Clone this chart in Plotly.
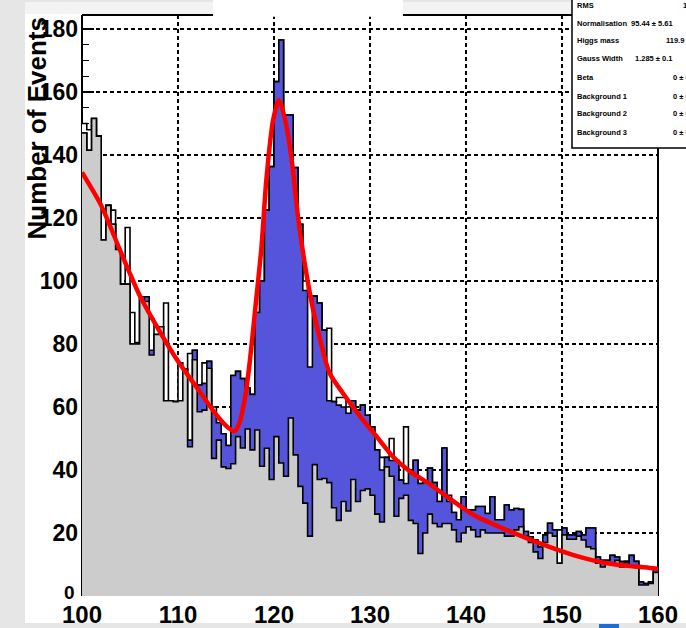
import plotly.graph_objects as go

# ---------------- data ----------------
BIN_LOW = 100.0
BIN_WIDTH = 0.5

data_counts = [
    150, 148, 151.6, 146, 122, 124, 122.5, 110, 99, 117,
    90, 80.5, 95, 95, 88, 83, 85.5, 93, 62, 61.7,
    74, 72, 77, 78, 67, 74, 74.5, 60, 55, 51.5,
    47.8, 70, 71.3, 69, 66, 64, 90, 100, 122.5, 136.3,
    163.3, 176.5, 152.7, 152.7, 136, 118, 100, 95, 95.2, 93,
    84.4, 85, 61.7, 63, 63, 60, 62, 59, 60.6, 57.4,
    53.7, 46.4, 44, 44, 50, 43, 36.8, 53.7, 40, 43.1,
    35.7, 36, 40.6, 36, 30, 47, 32, 26.5, 24.2, 31.5,
    27.3, 27.3, 28.4, 28.4, 26.2, 31.5, 24.2, 24.2, 28.9, 27.3,
    27.8, 27.5, 20.5, 18.8, 17.8, 15.6, 19.4, 23.1, 21, 21,
    21.6, 19.4, 19.4, 20.5, 19.4, 21.6, 21.6, 12.4, 11.3, 11.3,
    12.9, 12.4, 10.9, 11, 12.9, 11, 9, 9, 8.8, 8.8,
]

background_counts = [
    147, 141.5, 151.6, 146, 113, 124, 118, 110, 99, 99,
    80, 80, 95, 93.5, 76.5, 83, 85.5, 62, 62, 61.7,
    62, 72, 47.4, 75, 58.5, 59, 72.3, 43.7, 49.5, 41,
    40.5, 42, 50.6, 47, 53, 46.4, 52.7, 41.2, 46.9, 37,
    50.6, 42.2, 38, 56.5, 44.8, 34.8, 29.5, 19, 41.7, 37,
    37.3, 36, 28, 24, 30, 27, 37, 30, 33.5, 34,
    32, 26, 23.5, 41, 38, 25.3, 31, 32, 24, 23,
    13.5, 20, 26, 23, 22, 23, 23, 21, 17.2, 20,
    22, 21, 18.8, 21, 20, 20, 20, 20, 19, 19,
    21, 22, 19, 17, 14, 11.9, 17, 20, 19, 10.4,
    19.4, 18, 18, 19, 17.8, 15.6, 15, 10.4, 9.2, 10.5,
    10.5, 11.3, 9.2, 10.5, 9.2, 9.5, 3.5, 3.5, 4, 7.5,
]

signal_counts = [
    0, 0, 0, 0, 0, 0, 0, 0, 0, 0,
    0, 0, 0, 1.5, 1.5, 0, 0, 0, 0, 0,
    0, 0, 2.1, 3, 8.5, 8.5, 2.2, 14.3, 5.5, 10.5,
    7.3, 28, 20.7, 22, 13, 17.6, 37.3, 58.8, 75.6, 99.3,
    112.7, 134.3, 114.7, 96.2, 91.2, 83.2, 67.5, 53.7, 53.5, 56,
    47.1, 26, 33.7, 36.6, 30, 31, 25, 29, 27.1, 23.4,
    21.7, 20.4, 16.5, 3, 5, 17.7, 5.8, 3.7, 16, 20.1,
    22.2, 16, 14.6, 13, 8, 24, 7, 5.5, 7, 11.5,
    5.3, 6.3, 9.6, 7.4, 6.2, 11.5, 4.2, 4.2, 9.9, 8.3,
    6.8, 5.5, 1.5, 1.8, 3.8, 3.7, 2.4, 3.1, 2, 0,
    2.2, 1.4, 1.4, 1.5, 1.6, 6, 6.6, 2, 2.1, 0.8,
    2.4, 1.1, 1.7, 0.5, 3.7, 1.5, 1, 0.5, 0.5, 1.3,
]

fit_mass = [100, 102, 104, 106, 108, 110, 112, 114, 115.2, 115.9, 116.4, 117.0,
            117.5, 118.0, 118.7, 119.2, 119.9, 120.5, 121.1, 121.8, 122.5, 123.2,
            124.0, 124.8, 125.8, 127.2, 129.0, 130.7, 132.4, 134.2, 136.1, 137.3,
            140.8, 144.2, 147.7, 151.2, 154.7, 159.5, 160]
fit_value = [134.5, 124, 109.5, 95.5, 84.5, 74.5, 66, 57.5, 53.5, 52.3, 55, 63.3,
             75, 89.8, 110.9, 132, 151, 157.5, 152, 139.5, 120.4, 105.6,
             92, 81.3, 70.7, 64.3, 56.9, 50.6, 44.2, 39.5, 35.8, 33.1,
             25.7, 21, 16.7, 13, 10.4, 8.8, 8.6]

y_tick_values = [0, 20, 40, 60, 80, 100, 120, 140, 160, 180]
y_tick_labels = ["", "20", "40", "60", "80", "100", "120", "140", "160", "180"]
x_tick_values = [100, 110, 120, 130, 140, 150, 160]
x_tick_labels = ["100", "110", "120", "130", "140", "150", "160"]

stat_names = ["RMS", "Normalisation", "Higgs mass", "Gauss Width", "Beta",
              "Background 1", "Background 2", "Background 3"]
stat_values = ["14.87", "95.44 \u00b1 5.61", "119.9 \u00b1 0.2", "1.285 \u00b1 0.1",
               "0 \u00b1 0", "0 \u00b1 0", "0 \u00b1 0", "0 \u00b1 0"]

# ---------------- geometry helpers (pixel -> paper) ----------------
W, H = 686, 628
L, R, T, B = 82, 658, 15, 596


def px(x):
    return (x - L) / (R - L)


def py(y):
    return (B - y) / (B - T)


nb = len(data_counts)
edges = [BIN_LOW + BIN_WIDTH * i for i in range(nb + 1)]
total_counts = [b + s for b, s in zip(background_counts, signal_counts)]


def step(vals):
    return list(vals) + [vals[-1]]


fig = go.Figure()

# data histogram (drawn first, visible only above the stack)
fig.add_trace(go.Scatter(x=edges, y=step(data_counts), mode="lines", line_shape="hv",
                         fill="tozeroy", fillcolor="white",
                         line=dict(color="black", width=1.6), hoverinfo="skip",
                         showlegend=False))
# stack: signal + background (blue)
fig.add_trace(go.Scatter(x=edges, y=step(total_counts), mode="lines", line_shape="hv",
                         fill="tozeroy", fillcolor="#5555dc",
                         line=dict(color="black", width=1.6), hoverinfo="skip",
                         showlegend=False))
# background only (grey)
fig.add_trace(go.Scatter(x=edges, y=step(background_counts), mode="lines", line_shape="hv",
                         fill="tozeroy", fillcolor="#cccccc",
                         line=dict(color="black", width=1.6), hoverinfo="skip",
                         showlegend=False))
# fit curve
fig.add_trace(go.Scatter(x=fit_mass, y=fit_value, mode="lines",
                         line=dict(color="#ff0000", width=4.5, shape="spline", smoothing=0.7),
                         hoverinfo="skip", showlegend=False))

shapes = []
# page grey margins
shapes.append(dict(type="rect", xref="paper", yref="paper", x0=px(-5), x1=px(25),
                   y0=py(-5), y1=py(640), fillcolor="#e6e6e6", line_width=0, layer="above"))
shapes.append(dict(type="rect", xref="paper", yref="paper", x0=px(-5), x1=px(700),
                   y0=py(623), y1=py(640), fillcolor="#e6e6e6", line_width=0, layer="above"))
shapes.append(dict(type="rect", xref="paper", yref="paper", x0=px(25), x1=px(700),
                   y0=py(-5), y1=py(2), fillcolor="#e6e6e6", line_width=0, layer="above"))
shapes.append(dict(type="rect", xref="paper", yref="paper", x0=px(25), x1=px(572),
                   y0=py(2), y1=py(14), fillcolor="#f3f3f3", line_width=0, layer="above"))
shapes.append(dict(type="rect", xref="paper", yref="paper", x0=px(599), x1=px(619),
                   y0=py(624), y1=py(640), fillcolor="#1a6fd4", line_width=0, layer="above"))
# frame lines (under the histograms)
for (x0, y0, x1, y1) in [(0, 1, 1, 1), (0, 0, 0, 1), (1, 0, 1, 1)]:
    shapes.append(dict(type="line", xref="paper", yref="paper", x0=x0, y0=y0, x1=x1, y1=y1,
                       line=dict(color="black", width=2), layer="below"))
# empty title box
shapes.append(dict(type="rect", xref="paper", yref="paper", x0=px(213), x1=px(403),
                   y0=py(-5), y1=py(16.8), fillcolor="white", line_width=0, layer="above"))
# stats box
shapes.append(dict(type="rect", xref="paper", yref="paper", x0=px(572), x1=px(720),
                   y0=py(-10), y1=py(148), fillcolor="white",
                   line=dict(color="black", width=1.5), layer="above"))

annotations = []
annotations.append(dict(xref="paper", yref="paper", x=px(36), y=1.0, xanchor="center",
                        yanchor="top", text="Number of Events", textangle=-90,
                        showarrow=False,
                        font=dict(family="Liberation Sans", size=26, color="black",
                                  weight="bold")))
annotations.append(dict(xref="paper", yref="paper", x=px(69), y=py(592), xanchor="center",
                        yanchor="middle", text="0", showarrow=False,
                        font=dict(family="Liberation Sans", size=19, color="black",
                                  weight="bold")))
row_y = [5, 23, 41, 59, 77, 96, 114, 132]
value_x = [681, 629, 664, 633, 671, 671, 671, 671]
for name, val, yy, vx in zip(stat_names, stat_values, row_y, value_x):
    annotations.append(dict(xref="paper", yref="paper", x=px(575), y=py(yy), xanchor="left",
                            yanchor="middle", text=name, showarrow=False,
                            font=dict(family="Liberation Sans", size=7.5, color="black",
                                      weight="bold")))
    annotations.append(dict(xref="paper", yref="paper", x=px(vx), y=py(yy), xanchor="left",
                            yanchor="middle", text=val, showarrow=False,
                            font=dict(family="Liberation Sans", size=7.5, color="black",
                                      weight="bold")))

grid_dash = "4px,3px"
fig.update_layout(
    width=W, height=H,
    margin=dict(l=L, r=W - R, t=T, b=H - B, pad=0, autoexpand=False),
    paper_bgcolor="white", plot_bgcolor="white",
    shapes=shapes, annotations=annotations,
    xaxis=dict(range=[100, 160], tickmode="array", tickvals=x_tick_values,
               ticktext=x_tick_labels, ticks="inside", ticklen=12, tickwidth=1.5,
               tickcolor="black", showgrid=True, gridcolor="black", gridwidth=1.2,
               griddash=grid_dash, zeroline=False, showline=False, layer="below traces",
               automargin=False,
               tickfont=dict(family="Liberation Sans", size=24, color="black", weight="bold"),
               ticklabelstandoff=2),
    yaxis=dict(range=[0, 184.45], tickmode="array", tickvals=y_tick_values,
               ticktext=y_tick_labels, ticks="inside", ticklen=12, tickwidth=1.5,
               tickcolor="black", showgrid=True, gridcolor="black", gridwidth=1.2,
               griddash=grid_dash, zeroline=False, showline=False, layer="below traces",
               automargin=False,
               minor=dict(ticks="inside", ticklen=7, tickwidth=1.2, tickcolor="black",
                          dtick=5, tick0=0, showgrid=False),
               tickfont=dict(family="Liberation Sans", size=23, color="black", weight="bold"),
               ticklabelstandoff=3),
)

fig.write_html(
    "out.html",
    config={"displayModeBar": False, "staticPlot": True},
    post_script="document.body.style.margin='0';document.body.style.padding='0';"
                "document.body.style.overflow='hidden';",
)
